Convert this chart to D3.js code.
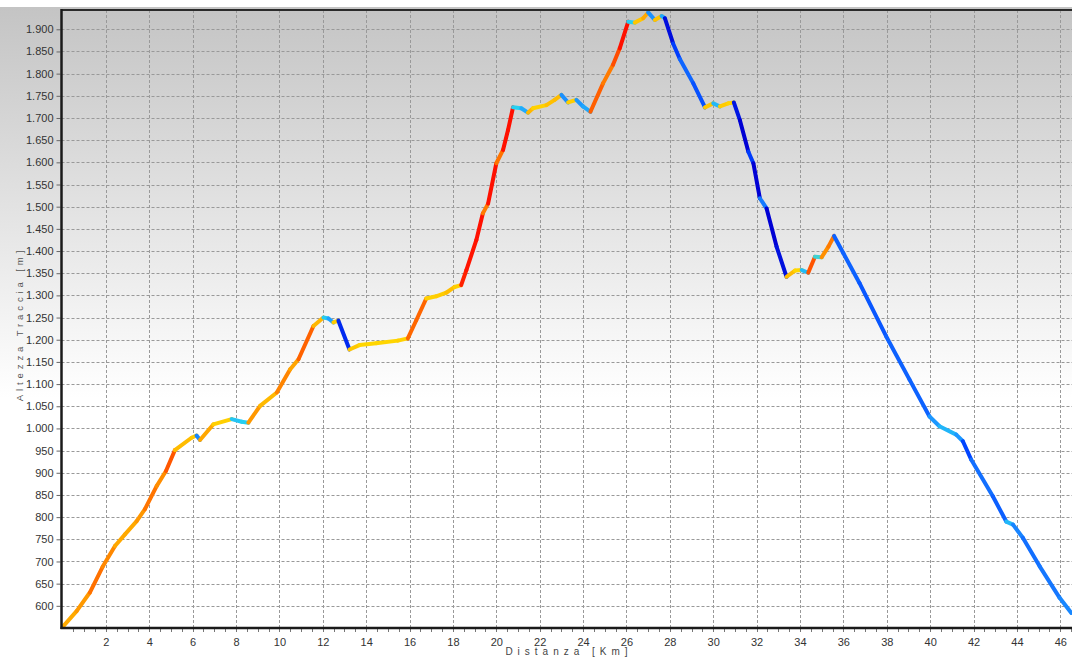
<!DOCTYPE html>
<html>
<head>
<meta charset="utf-8">
<script src="https://cdn.jsdelivr.net/npm/d3@7"></script>
<style>
  html, body { margin: 0; padding: 0; background: #fff; }
  svg { display: block; }
</style>
</head>
<body>
<svg id="chart" width="1072" height="658"></svg>
<script>
// profilo altimetrico: distanza (km) e quota (m)
var distKm = [0, 0.65, 1.26, 1.85, 2.42, 2.88, 3.42, 3.8, 4.34, 4.77, 5.18, 5.95, 6.18, 6.34, 6.95, 7.8,
	8.26, 8.57, 9.11, 9.88, 10.49, 10.88, 11.57, 12.03, 12.26, 12.49, 12.72, 13.23, 13.69, 14.46, 15.46,
	15.92, 16.31, 16.77, 17.23, 17.69, 18.08, 18.38, 18.62, 19.08, 19.38, 19.62, 20.0, 20.31, 20.54, 20.77,
	21.15, 21.46, 21.69, 22.31, 22.69, 23.0, 23.31, 23.69, 24.0, 24.34, 24.92, 25.38, 25.69, 26.08, 26.38,
	26.77, 27.0, 27.31, 27.62, 27.77, 28.15, 28.46, 29.08, 29.62, 30.0, 30.31, 30.69, 30.95, 31.23, 31.62,
	31.85, 32.15, 32.46, 32.92, 33.38, 33.77, 34.08, 34.38, 34.69, 35.0, 35.31, 35.57, 36.0, 36.74, 37.97,
	39.05, 39.97, 40.43, 41.2, 41.51, 41.89, 42.89, 43.51, 43.82, 44.28, 45.05, 45.97, 46.51];
var altM = [552, 588, 630, 688, 735, 761, 791, 818, 870, 904, 951, 979, 984, 974, 1009, 1021,
	1015, 1013, 1051, 1081, 1133, 1156, 1231, 1250, 1248, 1239, 1243, 1178, 1188, 1192, 1198,
	1203, 1244, 1293, 1298, 1306, 1319, 1323, 1357, 1425, 1485, 1507, 1598, 1628, 1673, 1724,
	1722, 1712, 1722, 1729, 1741, 1752, 1735, 1741, 1726, 1714, 1778, 1820, 1857, 1917, 1915,
	1925, 1938, 1921, 1930, 1925, 1868, 1833, 1778, 1724, 1733, 1726, 1733, 1735, 1695, 1624,
	1598, 1519, 1496, 1410, 1342, 1356, 1357, 1351, 1387, 1386, 1410, 1434, 1395, 1328, 1208,
	1110, 1027, 1005, 986, 971, 930, 847, 790, 783, 753, 689, 618, 584];

var xTicks = d3.range(2, 47, 2);
var xMinorTicks = d3.range(0.5, 46.6, 0.5);
var yTicks = d3.range(600, 1901, 50);

// colori per pendenza
var gradeStops = [-0.16, -0.11, -0.08, -0.04, -0.004, 0.003, 0.05, 0.08, 0.11, 0.15];
var gradeColors = ["#0000d4", "#0040ff", "#1474ff", "#1ea0ff", "#26d2f0", "#ffd800",
	"#ffb000", "#ff8c00", "#ff6000", "#ff1000"];

var svg = d3.select("#chart");
var W = 1072, H = 658;
var plotL = 61.5, plotR = 1072, plotT = 10, plotB = 628;

var x = d3.scaleLinear().domain([0, 46.54]).range([plotL + 1, plotR]);
var y = d3.scaleLinear().domain([550, 1943.5]).range([plotB, plotT]);
var color = d3.scaleLinear().domain(gradeStops).range(gradeColors).clamp(true);

var itFormat = d3.formatLocale({decimal: ",", thousands: ".", grouping: [3], currency: ["€", ""]}).format(",d");

// sfondo sfumato
var defs = svg.append("defs");
var grad = defs.append("linearGradient")
	.attr("id", "bg")
	.attr("x1", 0).attr("y1", 0).attr("x2", 0).attr("y2", 1);
grad.append("stop").attr("offset", "0").attr("stop-color", "#c4c4c4");
grad.append("stop").attr("offset", "0.6").attr("stop-color", "#ffffff");
grad.append("stop").attr("offset", "1").attr("stop-color", "#ffffff");

svg.append("rect")
	.attr("x", 0).attr("y", 7)
	.attr("width", W).attr("height", H - 7)
	.style("fill", "url(#bg)");

defs.append("clipPath").attr("id", "plotClip")
	.append("rect")
	.attr("x", plotL).attr("y", plotT)
	.attr("width", plotR - plotL).attr("height", plotB - plotT);

// griglia
var grid = svg.append("g");
grid.selectAll("line.gx")
	.data(xTicks)
	.enter().append("line")
	.attr("x1", function (d) { return Math.round(x(d)) + 0.5; })
	.attr("x2", function (d) { return Math.round(x(d)) + 0.5; })
	.attr("y1", plotT)
	.attr("y2", plotB)
	.style("stroke", "#999")
	.style("stroke-width", 1)
	.style("stroke-dasharray", "3,2");

grid.selectAll("line.gy")
	.data(yTicks)
	.enter().append("line")
	.attr("x1", plotL)
	.attr("x2", plotR)
	.attr("y1", function (d) { return Math.round(y(d)) + 0.5; })
	.attr("y2", function (d) { return Math.round(y(d)) + 0.5; })
	.style("stroke", "#999")
	.style("stroke-width", 1)
	.style("stroke-dasharray", "3,2");

// profilo colorato per segmenti
var pts = distKm.map(function (d, i) { return [d, altM[i]]; });
var segs = d3.pairs(pts);
var line = d3.line()
	.x(function (d) { return x(d[0]); })
	.y(function (d) { return y(d[1]); });

svg.append("g")
	.attr("clip-path", "url(#plotClip)")
	.selectAll("path")
	.data(segs)
	.enter().append("path")
	.attr("d", function (d) { return line(d); })
	.style("fill", "none")
	.style("stroke", function (d) {
		var g = (d[1][1] - d[0][1]) / ((d[1][0] - d[0][0]) * 1000);
		return color(g);
	})
	.style("stroke-width", 4)
	.style("stroke-linecap", "round")
	.style("stroke-linejoin", "round");

// assi
var xAxis = d3.axisBottom(x).tickValues(xTicks).tickSize(0).tickPadding(10)
	.tickFormat(d3.format("d"));
var gx = svg.append("g")
	.attr("transform", "translate(0," + plotB + ")")
	.call(xAxis);
gx.select(".domain").remove();
gx.selectAll("text")
	.style("font-family", "'Liberation Sans', Arial, sans-serif")
	.style("font-size", "11px")
	.style("fill", "#333");

svg.append("g")
	.selectAll("line")
	.data(xMinorTicks)
	.enter().append("line")
	.attr("x1", function (d) { return Math.round(x(d)) + 0.5; })
	.attr("x2", function (d) { return Math.round(x(d)) + 0.5; })
	.attr("y1", plotB)
	.attr("y2", plotB + 4)
	.style("stroke", "#777")
	.style("stroke-width", 1);

var yAxis = d3.axisLeft(y).tickValues(yTicks).tickSize(4).tickPadding(3)
	.tickFormat(itFormat);
var gy = svg.append("g")
	.attr("transform", "translate(" + (plotL - 1) + ",0)")
	.call(yAxis);
gy.select(".domain").remove();
gy.selectAll(".tick line").style("stroke", "#666");
gy.selectAll("text")
	.style("font-family", "'Liberation Sans', Arial, sans-serif")
	.style("font-size", "11px")
	.style("fill", "#333");

// bordi
svg.append("line")
	.attr("x1", plotL).attr("x2", plotR)
	.attr("y1", plotT).attr("y2", plotT)
	.style("stroke", "#2a2a2a").style("stroke-width", 2);
svg.append("line")
	.attr("x1", plotL).attr("x2", plotL)
	.attr("y1", plotT - 1).attr("y2", plotB + 1)
	.style("stroke", "#1a1a1a").style("stroke-width", 2.5);
svg.append("line")
	.attr("x1", plotL - 1).attr("x2", plotR)
	.attr("y1", plotB).attr("y2", plotB)
	.style("stroke", "#1a1a1a").style("stroke-width", 2.5);

// etichette assi
svg.append("text")
	.attr("x", 569)
	.attr("y", 655)
	.style("text-anchor", "middle")
	.style("font-family", "'Liberation Sans', Arial, sans-serif")
	.style("font-size", "10px")
	.style("letter-spacing", "5px")
	.style("fill", "#444")
	.text("Distanza [Km]");

svg.append("text")
	.attr("transform", "translate(23,324) rotate(-90)")
	.style("text-anchor", "middle")
	.style("font-family", "'Liberation Sans', Arial, sans-serif")
	.style("font-size", "9.5px")
	.style("letter-spacing", "3.9px")
	.style("fill", "#555")
	.text("Altezza Traccia [m]");
</script>
</body>
</html>
